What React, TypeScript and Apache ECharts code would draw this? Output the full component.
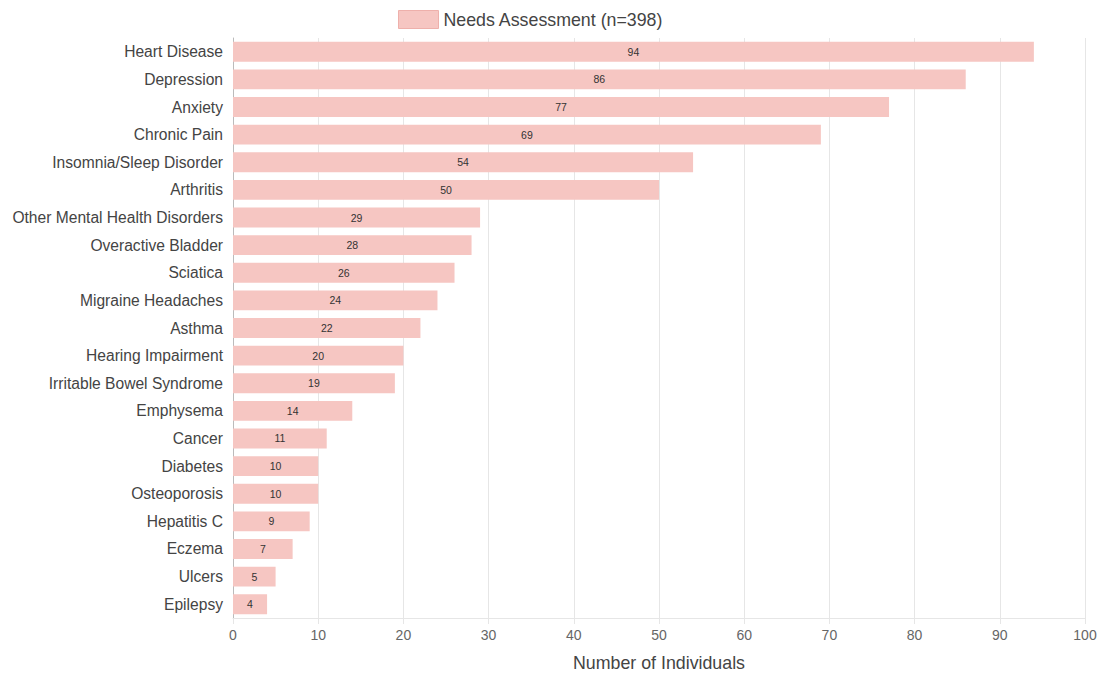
import React, { useEffect, useRef } from "react";
import * as echarts from "echarts";

const categories = [
  "Heart Disease",
  "Depression",
  "Anxiety",
  "Chronic Pain",
  "Insomnia/Sleep Disorder",
  "Arthritis",
  "Other Mental Health Disorders",
  "Overactive Bladder",
  "Sciatica",
  "Migraine Headaches",
  "Asthma",
  "Hearing Impairment",
  "Irritable Bowel Syndrome",
  "Emphysema",
  "Cancer",
  "Diabetes",
  "Osteoporosis",
  "Hepatitis C",
  "Eczema",
  "Ulcers",
  "Epilepsy",
];
const values = [94, 86, 77, 69, 54, 50, 29, 28, 26, 24, 22, 20, 19, 14, 11, 10, 10, 9, 7, 5, 4];
const seriesName = "Needs Assessment (n=398)";
const axisName = "Number of Individuals";

export default function App() {
  const ref = useRef<HTMLDivElement>(null);
  useEffect(() => {
    if (!ref.current) return;
    const chart = echarts.init(ref.current, null, { renderer: "svg" });
    const font = "'Liberation Sans', Arial, sans-serif";
    chart.setOption({
      animation: false,
      textStyle: { fontFamily: font },
      legend: {
        left: 393,
        top: 5,
        icon: "rect",
        itemWidth: 40,
        itemHeight: 18,
        itemGap: 8,
        textStyle: { fontSize: 17.8, color: "#444", fontFamily: font },
        data: [{ name: seriesName, itemStyle: { color: "#f6c6c2", borderColor: "#eeb0ab", borderWidth: 1 } }],
      },
      grid: { left: 233, right: 19, top: 38, bottom: 61, containLabel: false },
      xAxis: {
        type: "value",
        min: 0,
        max: 100,
        interval: 10,
        name: axisName,
        nameLocation: "middle",
        nameGap: 36,
        nameTextStyle: { fontSize: 17.8, color: "#444", fontFamily: font },
        axisLine: { show: true, lineStyle: { color: "#e6e6e6" } },
        axisTick: { show: true, length: 6, lineStyle: { color: "#e6e6e6" } },
        axisLabel: { fontSize: 14, color: "#666", margin: 10, fontFamily: font },
        splitLine: { show: true, lineStyle: { color: "#e6e6e6" } },
      },
      yAxis: {
        type: "category",
        inverse: true,
        data: categories,
        axisLine: { show: true, lineStyle: { color: "#bbbbbb" } },
        axisTick: { show: false },
        axisLabel: { fontSize: 15.6, color: "#444", margin: 10, fontFamily: font },
        splitLine: { show: false },
      },
      series: [
        {
          name: seriesName,
          type: "bar",
          data: values,
          barWidth: "72%",
          itemStyle: { color: "#f6c6c2" },
          label: {
            show: true,
            position: "inside",
            fontSize: 10.5,
            color: "#333",
            fontFamily: font,
          },
        },
      ],
    });
    return () => chart.dispose();
  }, []);
  return <div ref={ref} style={{ position: "absolute", left: 0, top: 0, width: 1104, height: 679 }} />;
}
